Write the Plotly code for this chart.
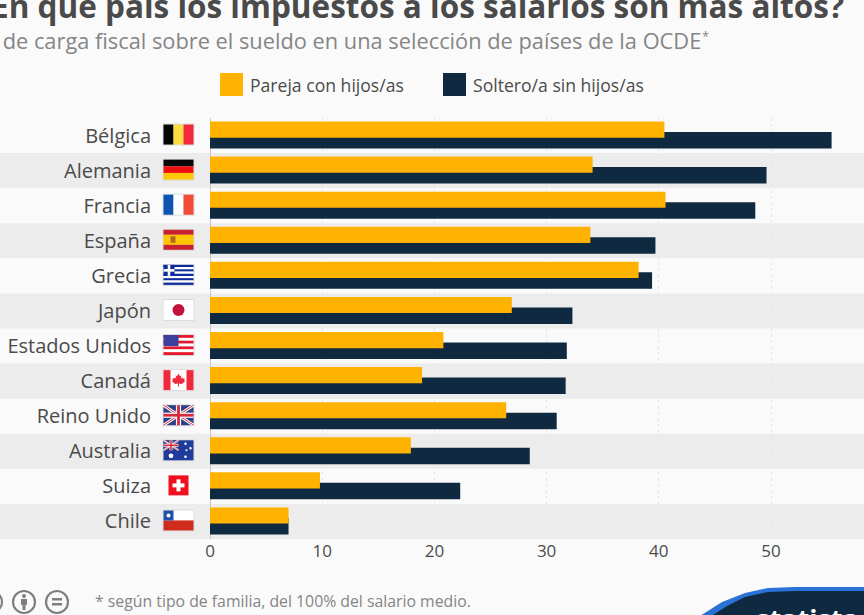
import plotly.graph_objects as go

categories = ["Bélgica", "Alemania", "Francia", "España", "Grecia", "Japón",
              "Estados Unidos", "Canadá", "Reino Unido", "Australia", "Suiza", "Chile"]
pareja = [40.5, 34.1, 40.6, 33.9, 38.2, 26.9, 20.8, 18.9, 26.4, 17.9, 9.8, 7.0]
soltero = [55.4, 49.6, 48.6, 39.7, 39.4, 32.3, 31.8, 31.7, 30.9, 28.5, 22.3, 7.0]
tick_values = [0, 10, 20, 30, 40, 50]

W, H = 864, 615
YEL, NAVY = "#ffb200", "#0f2a40"
PLOT_L, PLOT_T, PLOT_B = 210, 118, 539
ROW = (PLOT_B - PLOT_T) / 12


def px(x):
    return x / W


def py(y):
    return 1 - y / H


shapes = []
annotations = []


def rect(x0, y0, x1, y1, color, layer="above", line=None):
    shapes.append(dict(type="rect", xref="paper", yref="paper", x0=px(x0), x1=px(x1), y0=py(y0), y1=py(y1),
                       fillcolor=color, layer=layer, line=dict(width=0) if line is None else line))


def path(pts, color, layer="above"):
    d = "M" + " L".join(f"{px(a):.5f},{py(b):.5f}" for a, b in pts) + " Z"
    shapes.append(dict(type="path", xref="paper", yref="paper", path=d, fillcolor=color, layer=layer, line=dict(width=0)))


def circle(cx, cy, r, fill, line_color=None, lw=0):
    shapes.append(dict(type="circle", xref="paper", yref="paper", x0=px(cx - r), x1=px(cx + r), y0=py(cy + r), y1=py(cy - r),
                       fillcolor=fill, layer="above", line=dict(width=lw, color=line_color or fill)))


def seg(x0, y0, x1, y1, color, w):
    shapes.append(dict(type="line", xref="paper", yref="paper", x0=px(x0), x1=px(x1), y0=py(y0), y1=py(y1),
                       layer="above", line=dict(color=color, width=w)))


def text(x, y, s, size, color, anchor="left", family="Open Sans", weight=None):
    annotations.append(dict(xref="paper", yref="paper", x=px(x), y=py(y), text=s, showarrow=False,
                            xanchor=anchor, yanchor="middle",
                            font=dict(size=size, color=color, family=family, weight=weight)))


# alternating row bands
for i in range(12):
    if i % 2 == 1:
        rect(0, PLOT_T + i * ROW, W, PLOT_T + (i + 1) * ROW, "#ececec", layer="below")


def stripes_v(x, y, w, h, cols):
    for k, c in enumerate(cols):
        rect(x + k * w / len(cols), y, x + (k + 1) * w / len(cols), y + h, c)


def stripes_h(x, y, w, h, cols):
    for k, c in enumerate(cols):
        rect(x, y + k * h / len(cols), x + w, y + (k + 1) * h / len(cols), c)


FX, FW, FH = 163.5, 30, 20


def union(x, y, w, h, lw=1.0):
    rect(x, y, x + w, y + h, "#2b3f86")
    seg(x, y, x + w, y + h, "#ffffff", 3 * lw)
    seg(x, y + h, x + w, y, "#ffffff", 3 * lw)
    seg(x, y, x + w, y + h, "#d8283c", 1 * lw)
    seg(x, y + h, x + w, y, "#d8283c", 1 * lw)
    rect(x + w / 2 - 2.6 * lw, y, x + w / 2 + 2.6 * lw, y + h, "#ffffff")
    rect(x, y + h / 2 - 2.6 * lw, x + w, y + h / 2 + 2.6 * lw, "#ffffff")
    rect(x + w / 2 - 1.4 * lw, y, x + w / 2 + 1.4 * lw, y + h, "#d8283c")
    rect(x, y + h / 2 - 1.4 * lw, x + w, y + h / 2 + 1.4 * lw, "#d8283c")


def draw_flag(i):
    cy = PLOT_T + (i + 0.5) * ROW - 1
    x, y = FX, cy - FH / 2
    w, h = FW, FH
    if i != 10:
        rect(x - 1, y - 1, x + w + 1, y + h + 1, "#dcdcdc")
    if i == 0:
        stripes_v(x, y, w, h, ["#050505", "#fbdc43", "#f4283c"])
    elif i == 1:
        stripes_h(x, y, w, h, ["#080808", "#ee1010", "#fdc80a"])
    elif i == 2:
        stripes_v(x, y, w, h, ["#0b55b0", "#ffffff", "#f44a38"])
    elif i == 3:
        stripes_h(x, y, w, h, ["#c8202c", "#fdc400", "#fdc400", "#c8202c"])
        rect(x + 7, cy - 3.5, x + 12, cy + 3, "#b5651d")
    elif i == 4:
        cols = ["#0d2a9e", "#ffffff"] * 4 + ["#0d2a9e"]
        stripes_h(x, y, w, h, cols)
        rect(x, y, x + 11, y + 11, "#0d2a9e")
        rect(x + 4.2, y, x + 6.8, y + 11, "#ffffff")
        rect(x, y + 4.2, x + 11, y + 6.8, "#ffffff")
    elif i == 5:
        rect(x, y, x + w, y + h, "#ffffff")
        circle(x + w / 2, cy, 6, "#c2123a")
    elif i == 6:
        stripes_h(x, y, w, h, ["#e8142c", "#ffffff"] * 3 + ["#e8142c"])
        rect(x, y, x + 15, y + 11, "#3c3f9c")
    elif i == 7:
        rect(x, y, x + w, y + h, "#ffffff")
        rect(x, y, x + 7, y + h, "#f0283c")
        rect(x + w - 7, y, x + w, y + h, "#f0283c")
        leaf = [(0, -7), (1.6, -4), (3, -5), (2.4, -1.5), (4, -3), (4.6, -1.5), (6.5, -2), (6, 0.5), (7, 1.2),
                (3.4, 4), (0.5, 3.6), (0.5, 7), (-0.5, 7), (-0.5, 3.6), (-3.4, 4), (-7, 1.2), (-6, 0.5), (-6.5, -2),
                (-4.6, -1.5), (-4, -3), (-2.4, -1.5), (-3, -5), (-1.6, -4)]
        path([(x + w / 2 + a * 0.95, cy + b * 0.95) for a, b in leaf], "#f0283c")
    elif i == 8:
        union(x, y, w, h)
    elif i == 9:
        rect(x, y, x + w, y + h, "#1f3c9c")
        union(x, y, 15, 10, 0.55)
        for a, b, r in [(7.5, 15.5, 2.4), (22, 3.5, 1.2), (27, 8, 1.2), (23, 10, 1.0), (22, 16.5, 1.3)]:
            circle(x + a, y + b, r, "#ffffff")
    elif i == 10:
        rect(x + 5, y, x + 25, y + h, "#f00f1e")
        rect(x + w / 2 - 6, cy - 2, x + w / 2 + 6, cy + 2, "#ffffff")
        rect(x + w / 2 - 2, cy - 6, x + w / 2 + 2, cy + 6, "#ffffff")
    elif i == 11:
        rect(x, y, x + w, y + h / 2, "#ffffff")
        rect(x, y + h / 2, x + w, y + h, "#d02c1e")
        rect(x, y, x + 10, y + h / 2, "#1f4fa8")
        circle(x + 5, y + 5, 2, "#ffffff")


for i in range(12):
    draw_flag(i)

# headline, subtitle and footnote
text(846, 5, "¿En qué país los impuestos a los salarios son más altos?", 31.5, "#4a4a4a", "right", weight=700)
text(703, 41, "% de carga fiscal sobre el sueldo en una selección de países de la OCDE", 21.8, "#858585", "right")
text(700, 36, "*", 13, "#858585", "left")
text(93, 601, "* según tipo de familia, del 100% del salario medio.", 15.8, "#858585")

# legend
for x0, col, label in [(220, YEL, "Pareja con hijos/as"), (443, NAVY, "Soltero/a sin hijos/as")]:
    shapes.append(dict(type="rect", xref="paper", yref="paper", x0=px(x0), x1=px(x0 + 23), y0=py(96), y1=py(73),
                       fillcolor=col, layer="above", line=dict(width=0)))
    text(x0 + 28, 85, label, 17.6, "#4a4a4a")

# Creative Commons marks
GR = "#7f7f7f"
for cx in (-9, 24, 57):
    circle(cx, 602, 11, "rgba(0,0,0,0)", GR, 2.2)
circle(24, 596, 2, GR)
rect(21, 599, 27, 605, GR)
rect(22.5, 605, 25.5, 610, GR)
rect(52, 598, 62, 600.5, GR)
rect(52, 603, 62, 605.5, GR)

# statista badge
badge = [(700, 616), (722, 602), (745, 593), (768, 588), (795, 587), (865, 587), (865, 616)]
path(badge, "#2a72d6")
path([(a + (5 if k < 2 else 0), b + 4) for k, (a, b) in enumerate(badge)], "#0f2a40")
text(807, 618, "statista", 27, "#ffffff", "center", weight=700)

fig = go.Figure()
fig.add_bar(y=categories, x=soltero, name="Soltero/a sin hijos/as", orientation="h",
            marker=dict(color=NAVY, line=dict(width=0)), offset=-0.1, width=0.47)
fig.add_bar(y=categories, x=pareja, name="Pareja con hijos/as", orientation="h",
            marker=dict(color=YEL, line=dict(width=0)), offset=-0.4, width=0.46)

fig.update_layout(
    width=W, height=H, autosize=False,
    margin=dict(l=0, r=0, t=0, b=0),
    paper_bgcolor="#fafafa", plot_bgcolor="rgba(0,0,0,0)",
    barmode="overlay", showlegend=False, font=dict(family="Open Sans"),
    shapes=shapes, annotations=annotations,
    xaxis=dict(domain=[PLOT_L / W, 1], range=[0, (W - PLOT_L) / 11.22], tickvals=tick_values,
               automargin=False,
               showline=False, zeroline=True, zerolinecolor="#c8c8c8", zerolinewidth=1,
               showgrid=True, gridcolor="#e6e6e6", griddash="dot", gridwidth=1,
               tickfont=dict(size=17, color="#4a4a4a"), ticks="", anchor="y"),
    yaxis=dict(domain=[py(PLOT_B), py(PLOT_T)], autorange=False, range=[11.5, -0.5], type="category",
               automargin=False,
               tickfont=dict(size=20, color="#4a4a4a"), ticks="", showgrid=False, zeroline=False,
               ticklabelstandoff=58),
)

fig.write_html("out.html", config=dict(displayModeBar=False),
               post_script="document.body.style.margin='0';document.body.style.background='#fafafa';document.documentElement.style.overflow='hidden';")
